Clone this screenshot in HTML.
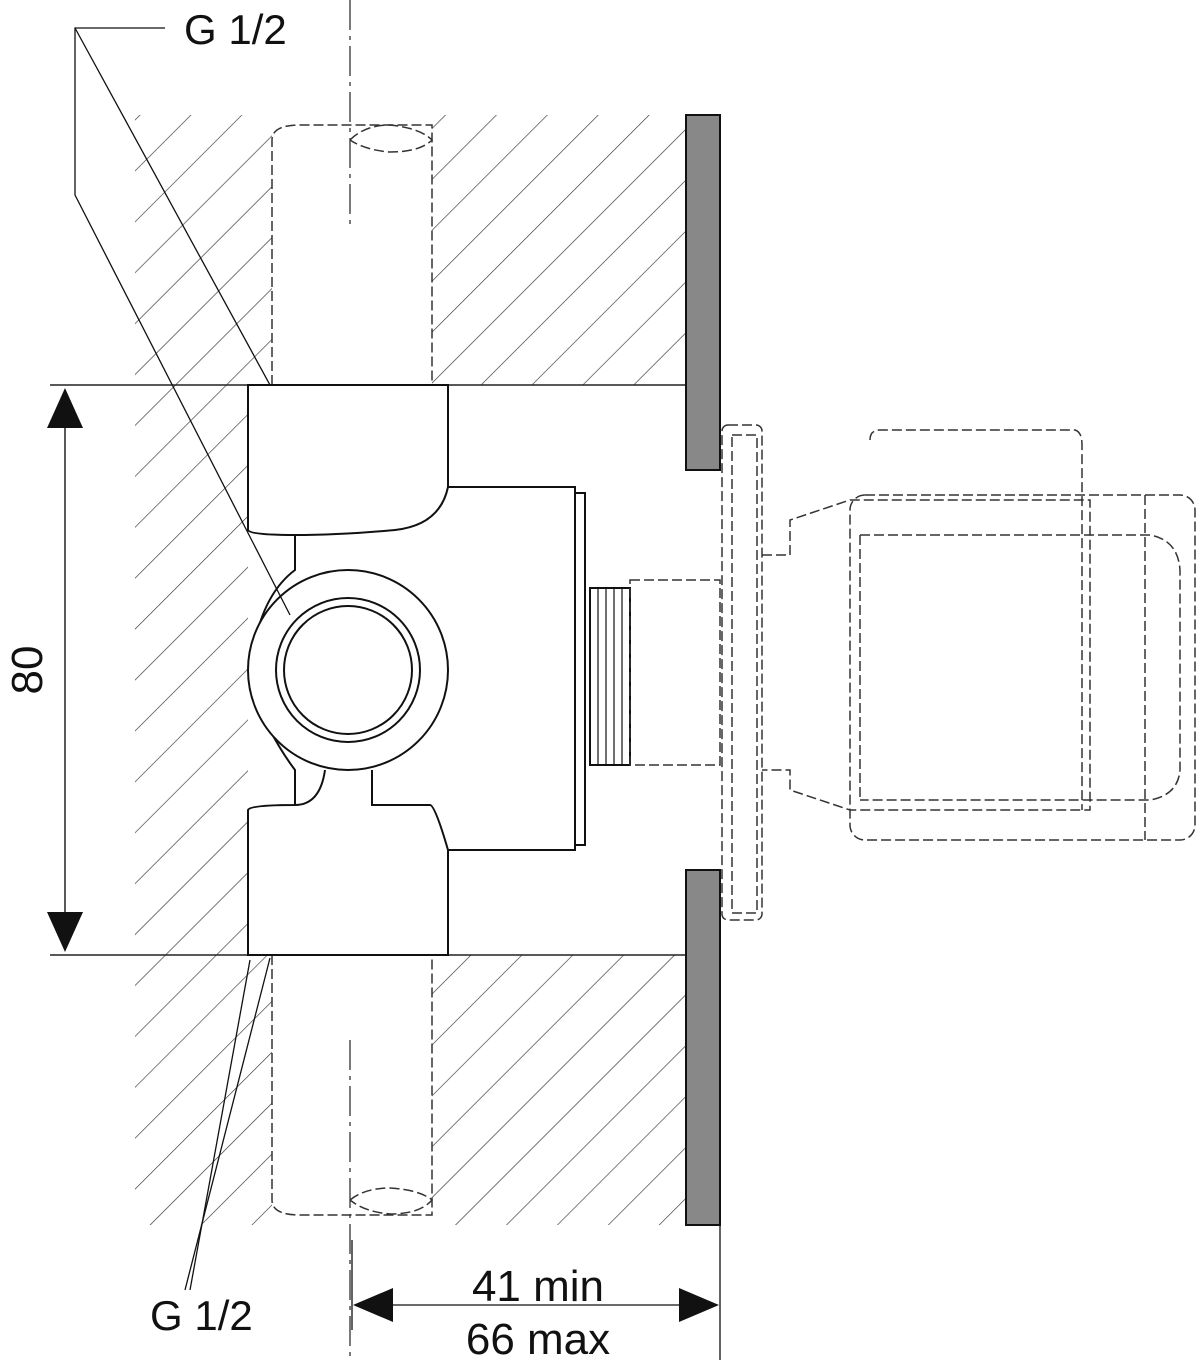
<!DOCTYPE html>
<html><head><meta charset="utf-8"><style>html,body{margin:0;padding:0;background:#fff}svg{display:block}text{font-family:"Liberation Sans",sans-serif;fill:#111}</style></head>
<body>
<svg width="1200" height="1370" viewBox="0 0 1200 1370" xmlns="http://www.w3.org/2000/svg">
<defs>
<pattern id="h" patternUnits="userSpaceOnUse" width="36" height="36" patternTransform="rotate(45)">
<line x1="0" y1="0" x2="0" y2="36" stroke="#333" stroke-width="1.3"/>
</pattern>
</defs>
<g fill="url(#h)">
<rect x="135" y="115" width="137" height="270"/>
<rect x="432" y="115" width="253" height="270"/>
<rect x="135" y="385" width="113" height="570"/>
<rect x="135" y="955" width="137" height="270"/>
<rect x="432" y="955" width="253" height="270"/>
</g>
<g stroke="#222" stroke-width="1.5" fill="none">
<line x1="50" y1="385" x2="685" y2="385"/>
<line x1="50" y1="955" x2="685" y2="955"/>
<line x1="65" y1="425" x2="65" y2="915"/>
</g>
<polygon points="65,388 47,428 83,428" fill="#111"/>
<polygon points="65,952 47,912 83,912" fill="#111"/>
<text x="0" y="0" font-size="44" transform="translate(42,670) rotate(-90)" text-anchor="middle">80</text>
<rect x="686" y="115" width="34" height="355" fill="#888" stroke="#111" stroke-width="2"/>
<rect x="686" y="870" width="34" height="355" fill="#888" stroke="#111" stroke-width="2"/>
<g stroke="#333" stroke-width="1.5" fill="none" stroke-dasharray="10,4">
<path d="M272,385 V140 Q272,125 300,125 H432 V385"/>
<path d="M350,140 Q365,125 390,125 Q420,128 432,140 Q420,152 390,152 Q365,150 350,140"/>
<path d="M272,955 V1200 Q272,1215 300,1215 H432 V955"/>
<path d="M350,1200 Q365,1188 390,1188 Q420,1190 432,1200 Q420,1214 390,1214 Q365,1212 350,1200"/>
</g>
<g stroke="#333" stroke-width="1.3" stroke-dasharray="30,6,4,6">
<line x1="350" y1="0" x2="350" y2="230"/>
<line x1="350" y1="1040" x2="350" y2="1360"/>
</g>
<g stroke="#111" stroke-width="2" fill="#fff">
<path d="M248,385 H448 V487 H575 V850 H448 V955 H248 V810 Q250,805 295,805 V770 Q265,730 250,680 Q255,600 295,570 V535 Q250,535 248,530 Z"/>
<path d="M448,487 Q440,525 395,530 Q340,535 295,535" fill="none"/>
<path d="M448,850 Q435,805 430,805 H372 V770" fill="none"/>
<path d="M295,805 Q320,805 325,770" fill="none"/>
<rect x="575" y="493" width="10" height="352"/>
<circle cx="348" cy="670" r="100"/>
<circle cx="348" cy="670" r="72"/>
<circle cx="348" cy="670" r="64"/>
<rect x="590" y="588" width="40" height="177"/>
</g>
<g stroke="#111" stroke-width="1.2">
<line x1="598" y1="588" x2="598" y2="765"/><line x1="606" y1="588" x2="606" y2="765"/>
<line x1="614" y1="588" x2="614" y2="765"/><line x1="622" y1="588" x2="622" y2="765"/>
</g>
<g stroke="#333" stroke-width="1.5" fill="none" stroke-dasharray="10,4">
<rect x="630" y="580" width="90" height="185"/>
<rect x="722" y="425" width="40" height="495" rx="6"/>
<rect x="732" y="435" width="25" height="478"/>
<path d="M762,555 H790 V520 L850,500 H1090 V810 H850 L790,790 V770 H762"/>
<path d="M870,440 Q870,430 880,430 H1075 Q1082,432 1082,445 V810"/>
<rect x="850" y="495" width="345" height="345" rx="15"/>
<path d="M860,535 H1150 Q1178,540 1180,570 V770 Q1178,795 1150,800 H860"/>
<line x1="860" y1="535" x2="860" y2="800"/>
<line x1="1145" y1="495" x2="1145" y2="840"/>
</g>
<g stroke="#111" stroke-width="1.3" fill="none">
<polyline points="165,28 75,28 75,195 290,615"/>
<line x1="75" y1="28" x2="270" y2="385"/>
<line x1="270" y1="958" x2="185" y2="1290"/>
<line x1="250" y1="960" x2="190" y2="1290"/>
<line x1="352" y1="1240" x2="352" y2="1330"/>
<line x1="720" y1="1225" x2="720" y2="1360"/>
<line x1="390" y1="1305" x2="682" y2="1305"/>
</g>
<polygon points="353,1305 393,1288 393,1322" fill="#111"/>
<polygon points="719,1305 679,1288 679,1322" fill="#111"/>
<text x="184" y="44" font-size="42">G 1/2</text>
<text x="150" y="1330" font-size="42">G 1/2</text>
<text x="538" y="1301" font-size="44" text-anchor="middle">41 min</text>
<text x="538" y="1354" font-size="44" text-anchor="middle">66 max</text>
</svg>
</body></html>
